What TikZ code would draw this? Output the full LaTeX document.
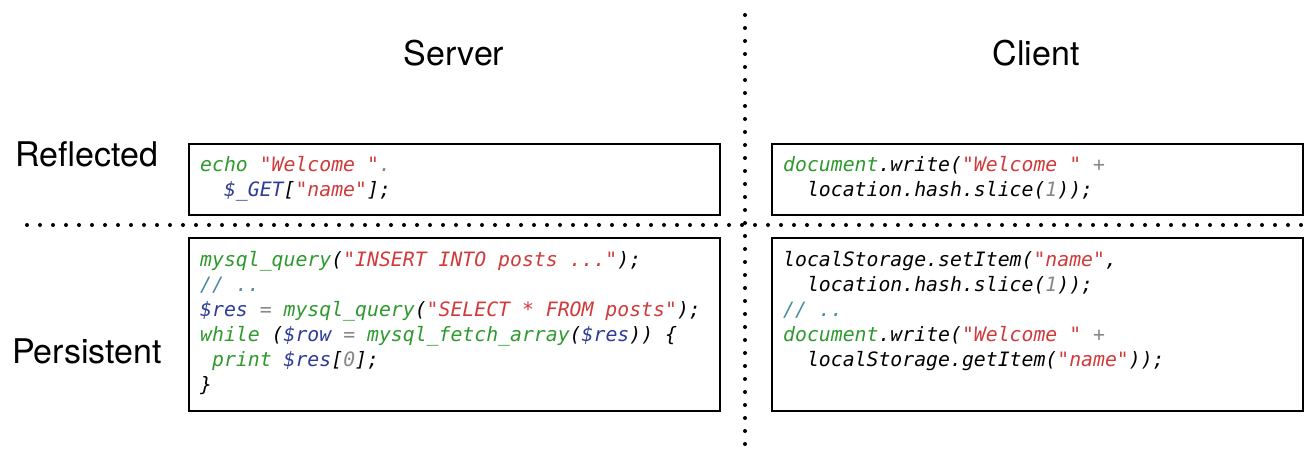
\documentclass[tikz,border=0pt]{standalone}
\usepackage{fontspec}
\setmainfont{TeX Gyre Heros}
\newfontfamily\codefont{DejaVu Sans Mono}
\usetikzlibrary{positioning}

\definecolor{kwgreen}{HTML}{2E9A2E}
\definecolor{strred}{HTML}{D03A3A}
\definecolor{varblue}{HTML}{2D3C96}
\definecolor{cmtteal}{HTML}{4A8CA0}
\definecolor{numgray}{HTML}{888888}

\newcommand{\ckw}[1]{\textcolor{kwgreen}{#1}}
\newcommand{\cstr}[1]{\textcolor{strred}{#1}}
\newcommand{\cvar}[1]{\textcolor{varblue}{#1}}
\newcommand{\ccmt}[1]{\textcolor{cmtteal}{#1}}
\newcommand{\cnum}[1]{\textcolor{numgray}{#1}}
\newcommand{\ind}{\hphantom{x}}

\tikzset{
  heading/.style={font=\fontsize{34}{40}\selectfont, anchor=base},
  codebox/.style={draw, line width=2pt, minimum width=531pt, anchor=north west, inner sep=0pt},
  codetext/.style={font=\codefont\itshape\fontsize{19.8}{25}\selectfont, align=left, anchor=base west, inner sep=0pt},
  sepline/.style={line width=4pt, line cap=round, dash pattern=on 0pt off 13pt}
}

\begin{document}
\begin{tikzpicture}[x=1pt,y=-1pt]

\useasboundingbox (0,0) rectangle (1308,472);

% Separators
\draw[sepline] (745,15) -- (745,450);
\draw[sepline] (27,225) -- (1305,225);

% Headings
\node[heading] (server) at (454,65) {Server};
\node[heading] (client) at (1036,65) {Client};
\node[heading] (reflected) at (87,166) {Reflected};
\node[heading] (persistent) at (87,363) {Persistent};

% Reflected (anchor at baseline of last line)
\node[codebox, minimum height=71pt] (srvrefl) at (188,143) {};
\node[codetext] (srvreflcode) at ([shift={(12,53)}]srvrefl.north west)
{\ckw{echo} \cstr{"Welcome "}\cnum{.}\\
\ind\ind\cvar{\$\_GET}[\cstr{"name"}];};

\node[codebox, minimum height=71pt] (clirefl) at (771,143) {};
\node[codetext] (clireflcode) at ([shift={(12,53)}]clirefl.north west)
{\ckw{document}.write(\cstr{"Welcome "} \cnum{+}\\
\ind\ind location.hash.slice(\cnum{1}));};

% Persistent
\node[codebox, minimum height=173pt] (srvpers) at (188,237) {};
\node[codetext] (srvperscode) at ([shift={(12,154)}]srvpers.north west)
{\ckw{mysql\_query}(\cstr{"INSERT INTO posts ..."});\\
\ccmt{// ..}\\
\cvar{\$res} \cnum{=} \ckw{mysql\_query}(\cstr{"SELECT * FROM posts"});\\
\ckw{while} (\cvar{\$row} \cnum{=} \ckw{mysql\_fetch\_array}(\cvar{\$res})) \{\\
\ind\ckw{print} \cvar{\$res}[\cnum{0}];\\
\}};

\node[codebox, minimum height=173pt] (clipers) at (771,237) {};
\node[codetext] (cliperscode) at ([shift={(12,129)}]clipers.north west)
{localStorage.setItem(\cstr{"name"},\\
\ind\ind location.hash.slice(\cnum{1}));\\
\ccmt{// ..}\\
\ckw{document}.write(\cstr{"Welcome "} \cnum{+}\\
\ind\ind localStorage.getItem(\cstr{"name"}));};

\end{tikzpicture}
\end{document}
